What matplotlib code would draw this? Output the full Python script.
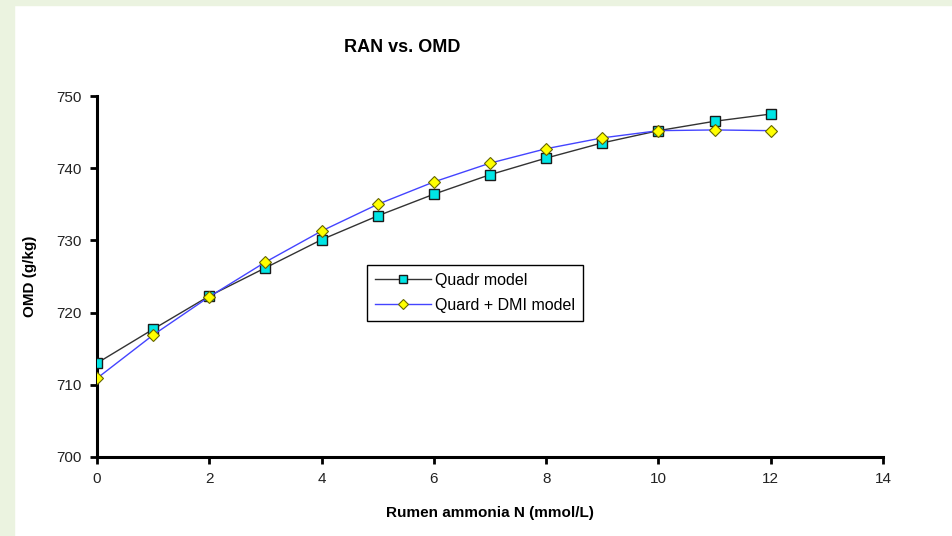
import matplotlib
matplotlib.use('Agg')
import matplotlib.pyplot as plt
import matplotlib.patches as mpatches

plt.rcParams['font.family'] = ['Liberation Sans', 'DejaVu Sans']

ran = [0, 1, 2, 3, 4, 5, 6, 7, 8, 9, 10, 11, 12]
quadr = [713.0, 717.7, 722.3, 726.2, 730.1, 733.4, 736.4, 739.1, 741.4, 743.5, 745.2, 746.5, 747.5]
quad_dmi = [710.9, 716.9, 722.2, 727.0, 731.3, 735.0, 738.1, 740.7, 742.7, 744.2, 745.2, 745.3, 745.2]
xticks = [0, 2, 4, 6, 8, 10, 12, 14]
yticks = [700, 710, 720, 730, 740, 750]

fig = plt.figure(figsize=(9.53, 5.36), dpi=100)
fig.patch.set_facecolor('white')
# light green slide border, top and left
fig.patches.append(mpatches.Rectangle((0, 0), 14/953, 1, transform=fig.transFigure, color='#ebf3e0', zorder=0))
fig.patches.append(mpatches.Rectangle((0, 1-5/536), 1, 5/536, transform=fig.transFigure, color='#ebf3e0', zorder=0))

ax = fig.add_axes([97/953, 1-457/536, 786/953, 361/536])
ax.plot(ran, quadr, color='#333333', lw=1, marker='s', ms=7, mfc='#00e5e5', mec='#1a1a1a', mew=1,
        label='Quadr model', zorder=3)
ax.plot(ran, quad_dmi, color='#4444ff', lw=1, marker='D', ms=6, mfc='#ffff00', mec='#666600', mew=0.8,
        label='Quard + DMI model', zorder=4)

ax.set_xlim(0, 14)
ax.set_ylim(700, 750)
ax.set_xticks(xticks)
ax.set_yticks(yticks)
for s in ['top', 'right']:
    ax.spines[s].set_visible(False)
for s in ['left', 'bottom']:
    ax.spines[s].set_linewidth(2.2)
    ax.spines[s].set_clip_on(False)
ax.tick_params(direction='out', length=5, width=2, labelsize=11, pad=6, labelcolor='#222222')
ax.margins(0)

ax.set_xlabel('Rumen ammonia N (mmol/L)', fontsize=11, fontweight='bold', labelpad=14)
ax.set_ylabel('OMD (g/kg)', fontsize=11, fontweight='bold', labelpad=14)
fig.text(402/953, 1-47/536, 'RAN vs. OMD', fontsize=13, fontweight='bold', ha='center', va='center')

leg = ax.legend(loc='upper left', bbox_to_anchor=(0.333, 0.554), fontsize=11.5, frameon=True,
                fancybox=False, edgecolor='black', framealpha=1, handlelength=3.5,
                borderpad=0.5, labelspacing=0.6, handletextpad=0.3, markerscale=0.8)
leg.get_frame().set_linewidth(1)

fig.savefig('out.png', dpi=100)
